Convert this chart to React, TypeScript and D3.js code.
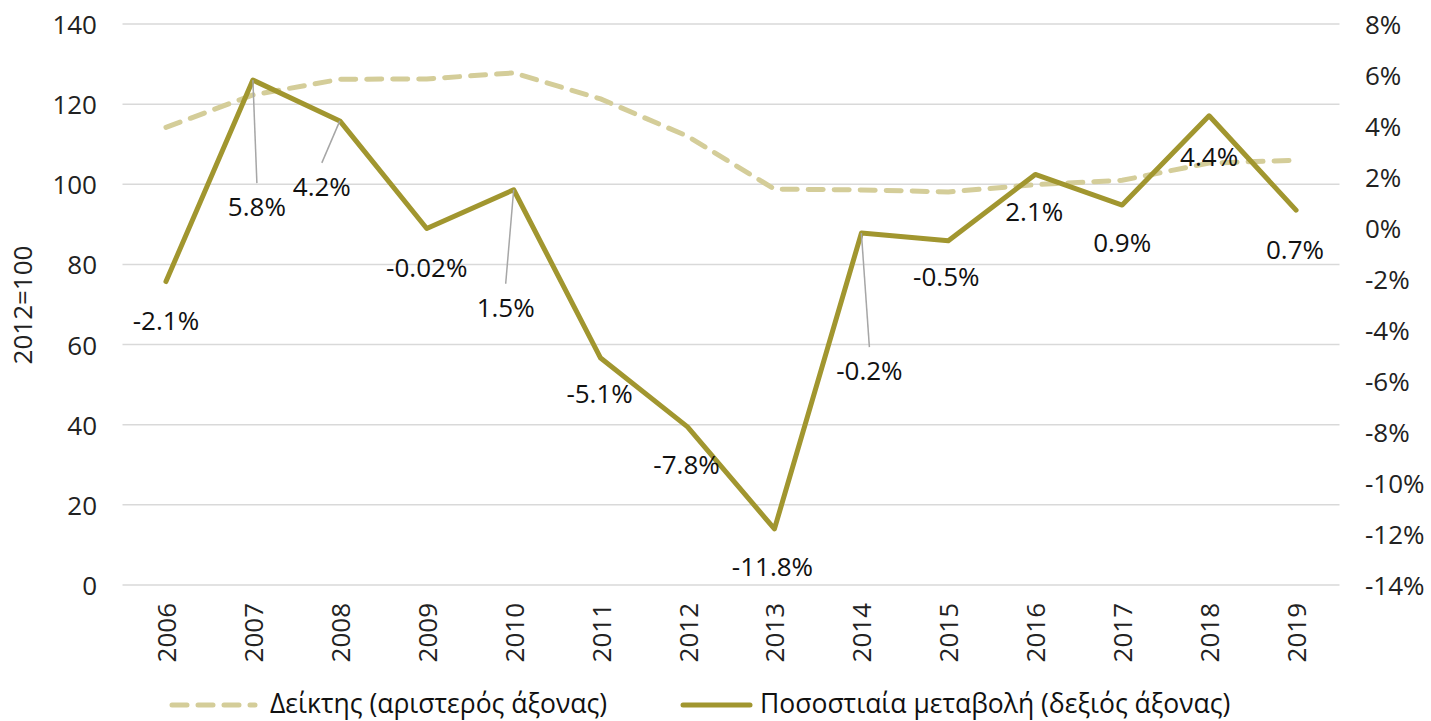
import React from "react";
import * as d3 from "d3";

const years = ["2006","2007","2008","2009","2010","2011","2012","2013","2014","2015","2016","2017","2018","2019"];
const indexValues = [114.2, 122.3, 126.2, 126.3, 127.8, 121.3, 112.0, 98.8, 98.6, 98.1, 99.9, 101.0, 105.3, 106.0];
const pctValues = [-2.1, 5.8, 4.2, -0.02, 1.5, -5.1, -7.8, -11.8, -0.2, -0.5, 2.1, 0.9, 4.4, 0.7];
const pctLabels = ["-2.1%","5.8%","4.2%","-0.02%","1.5%","-5.1%","-7.8%","-11.8%","-0.2%","-0.5%","2.1%","0.9%","4.4%","0.7%"];
const labelDx = [0, 4, -18, 0, -8, -1, -1, -2, 8, -2, -1, 0, 0, -1];
const labelDy = [48, 136, 75, 48, 127, 45, 47, 47, 147, 45, 47, 47, 50, 49];
const leader = [false, true, true, false, true, false, false, false, true, false, false, false, false, false];
const leftTicks = [0, 20, 40, 60, 80, 100, 120, 140];
const rightTicks = [8, 6, 4, 2, 0, -2, -4, -6, -8, -10, -12, -14];

const W = 1431, H = 721;
const left = 122.5, right = 1339.5, top = 24, bottom = 585;
const FONT = "'Open Sans', sans-serif";
const FS = 26;
const LFS = 26.5;
const solidColor = "#a1962f";
const dashColor = "#d4cd99";

export default function App() {
  const x = d3.scalePoint<string>().domain(years).range([left, right]).padding(0.5);
  const yL = d3.scaleLinear().domain([0, 140]).range([bottom, top]);
  const yR = d3.scaleLinear().domain([-14, 8]).range([bottom, top]);
  const lineIdx = d3.line<number>().x((_, i) => x(years[i])!).y(d => yL(d));
  const linePct = d3.line<number>().x((_, i) => x(years[i])!).y(d => yR(d));

  return (
    <svg width={W} height={H} style={{ position: "absolute", left: 0, top: 0 }} fontFamily={FONT}>
      <rect width={W} height={H} fill="#fff" />
      {leftTicks.map(t => (
        <g key={"l" + t}>
          <line x1={left} x2={right} y1={yL(t)} y2={yL(t)} stroke="#d9d9d9" strokeWidth={1.5} />
          <text x={97} y={yL(t)} textAnchor="end" dominantBaseline="central" fontSize={FS} fill="#222">{t}</text>
        </g>
      ))}
      {rightTicks.map(t => (
        <text key={"r" + t} x={1365} y={yR(t)} textAnchor="start" dominantBaseline="central" fontSize={FS} fill="#222">{t + "%"}</text>
      ))}
      {years.map(yr => (
        <text key={yr} transform={`translate(${x(yr)},603) rotate(-90)`} textAnchor="end" dominantBaseline="central" fontSize={FS} fill="#222">{yr}</text>
      ))}
      <text transform="translate(22,305) rotate(-90)" textAnchor="middle" dominantBaseline="central" fontSize={FS} fill="#222">2012=100</text>
      <path d={lineIdx(indexValues)!} fill="none" stroke={dashColor} strokeWidth={5} strokeDasharray="15,11" strokeLinecap="round" />
      <path d={linePct(pctValues)!} fill="none" stroke={solidColor} strokeWidth={5} strokeLinejoin="round" strokeLinecap="round" />
      {pctValues.map((v, i) => {
        const px = x(years[i])!;
        const py = yR(v);
        const lx = px + labelDx[i];
        const ly = py + labelDy[i];
        return (
          <g key={"lab" + i}>
            {leader[i] && <line x1={px} y1={py} x2={lx} y2={ly - 33} stroke="#a6a6a6" strokeWidth={1.5} />}
            <text x={lx} y={ly} textAnchor="middle" fontSize={FS} fill="#111">{pctLabels[i]}</text>
          </g>
        );
      })}
      <g>
        <line x1={172} x2={255} y1={705} y2={705} stroke={dashColor} strokeWidth={5} strokeDasharray="15,11" strokeLinecap="round" />
        <text x={270} y={703} dominantBaseline="central" fontSize={LFS} fill="#111">Δείκτης (αριστερός άξονας)</text>
        <line x1={683} x2={750} y1={705} y2={705} stroke={solidColor} strokeWidth={5} strokeLinecap="round" />
        <text x={760} y={703} dominantBaseline="central" fontSize={LFS} fill="#111">Ποσοστιαία μεταβολή (δεξιός άξονας)</text>
      </g>
    </svg>
  );
}
